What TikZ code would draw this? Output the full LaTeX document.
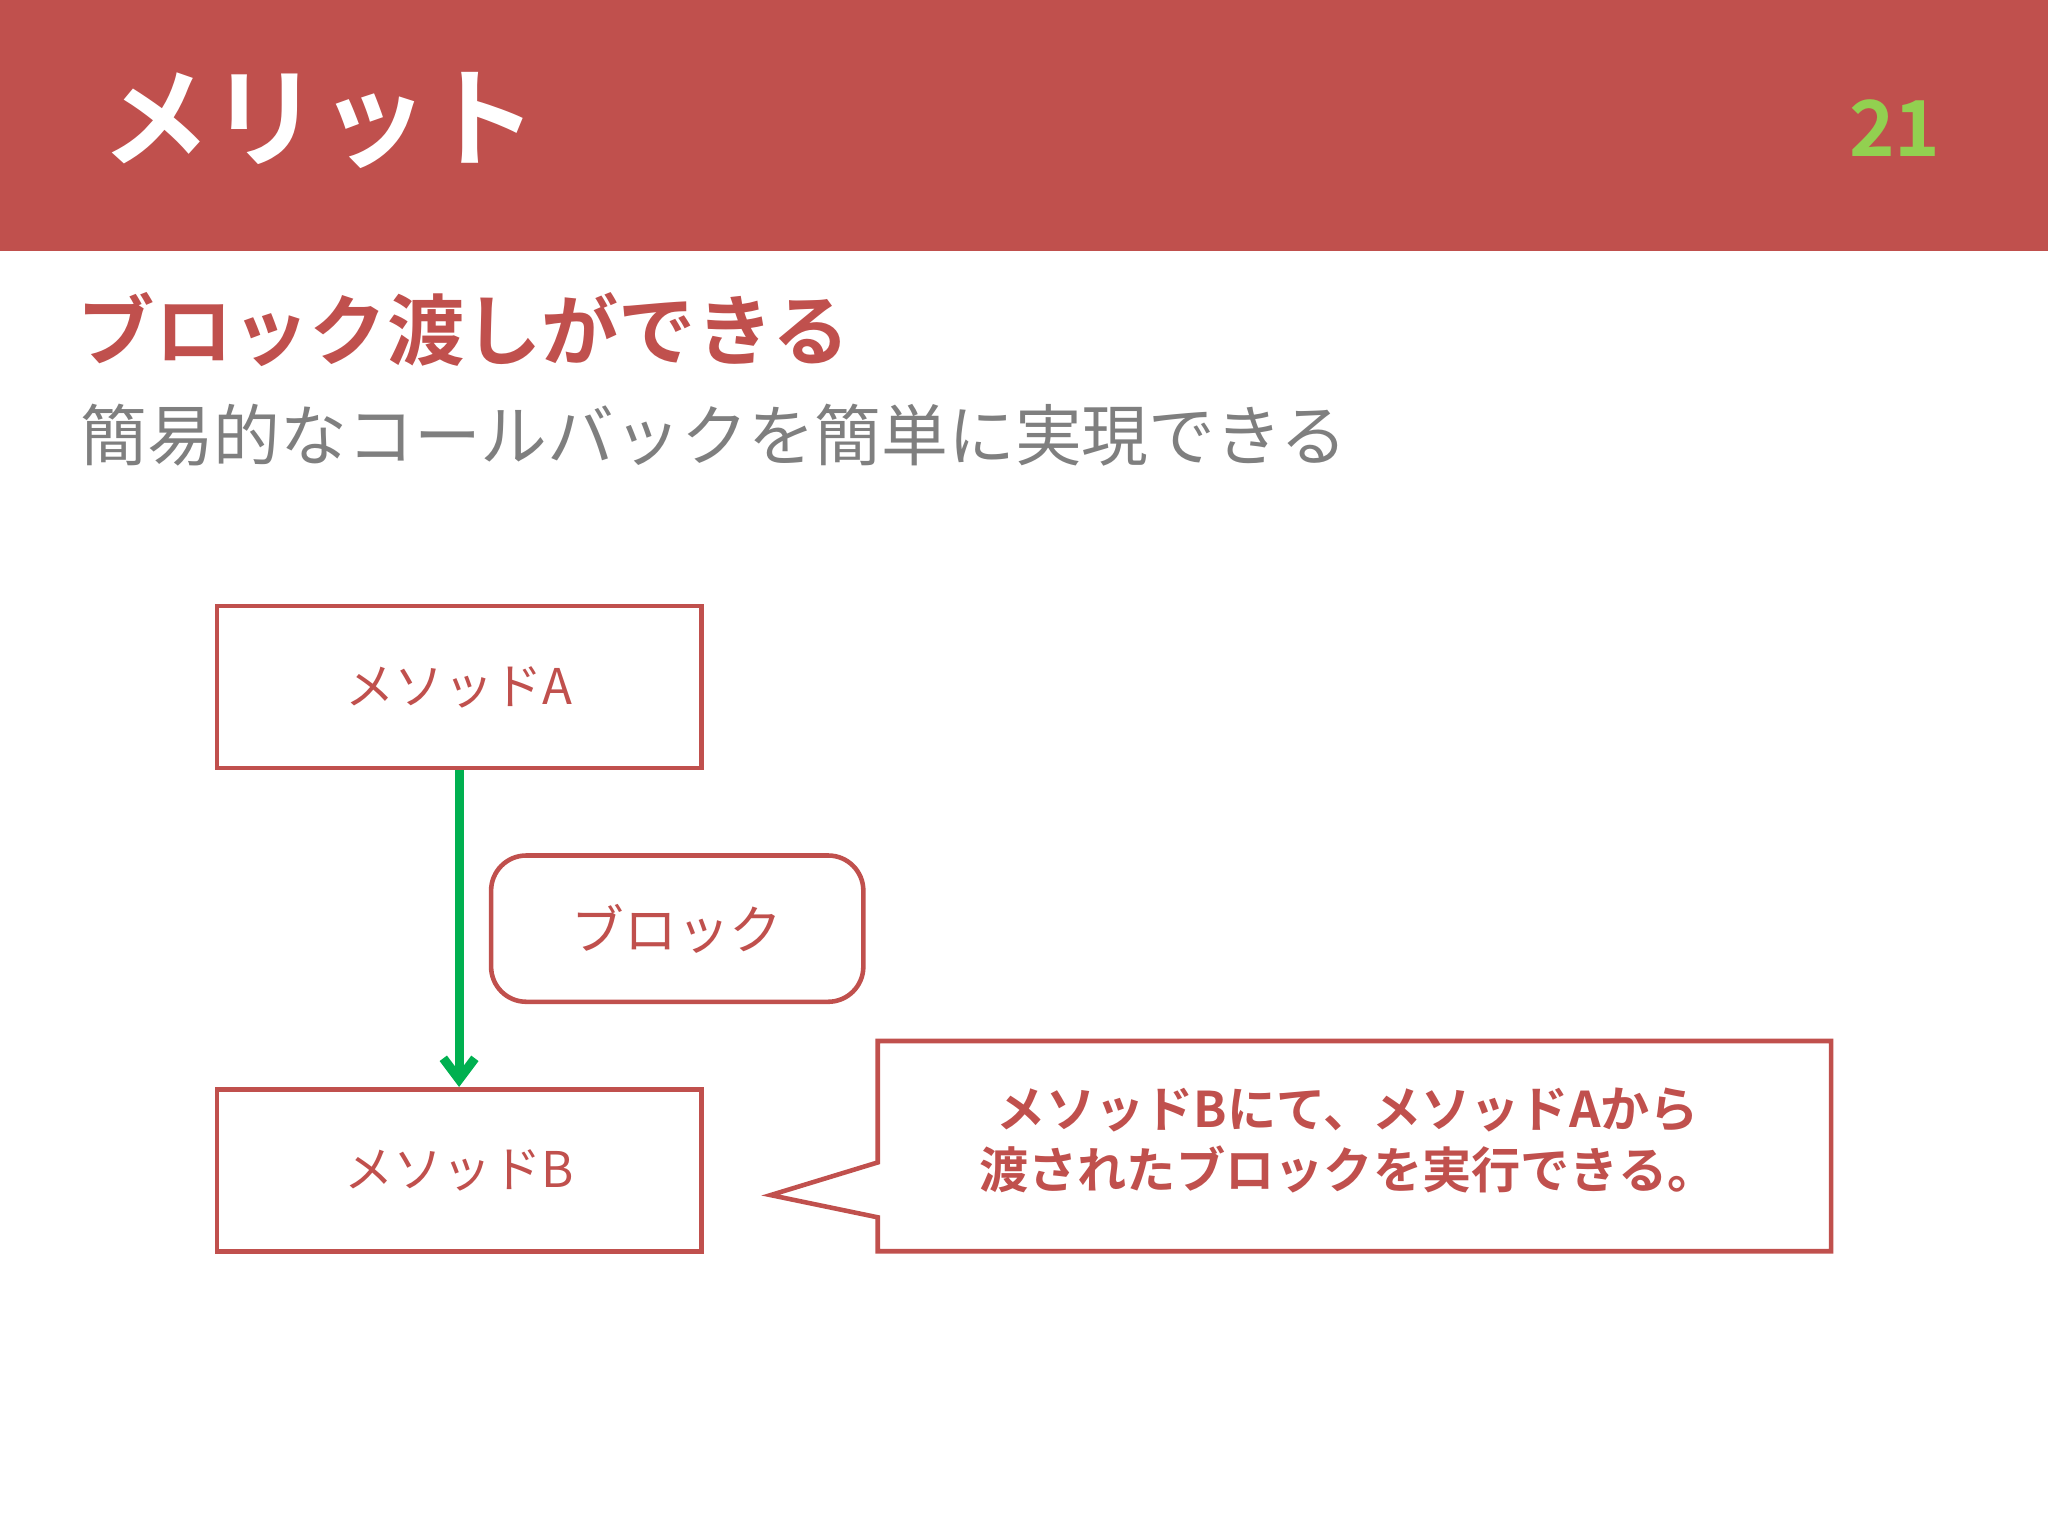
\documentclass[tikz,border=0pt]{standalone}
\usepackage{fontspec}
\usetikzlibrary{arrows.meta}
\setmainfont{Noto Sans CJK JP}
\newfontfamily\jpb{Noto Sans CJK JP Bold}
\definecolor{hdr}{HTML}{C0504D}
\definecolor{grn}{HTML}{92D050}
\definecolor{arr}{HTML}{00B050}
\definecolor{sub}{HTML}{7F7F7F}
\begin{document}
\begin{tikzpicture}[x=0.013061cm,y=-0.013061cm,
 bx/.style={draw=hdr,line width=1.3pt,minimum width=371*0.013061cm,minimum height=124*0.013061cm,text=hdr,font=\fontsize{14}{16}\selectfont},
]
\useasboundingbox (0,0) rectangle (1568,1176);
\fill[hdr] (0,0) rectangle (1568,192);
\node[anchor=west,text=white,font=\jpb\fontsize{31}{34}\selectfont] (t) at (68,92) {メリット};
\node[anchor=east,text=grn,font=\jpb\fontsize{22}{24}\selectfont] (n) at (1495,98) {21};
\node[anchor=west,text=hdr,font=\jpb\fontsize{22}{24}\selectfont] (h) at (50,252) {ブロック渡しができる};
\node[anchor=west,text=sub,font=\fontsize{19}{22}\selectfont] (s) at (52,333) {簡易的なコールバックを簡単に実現できる};
\node[bx] (a) at (351.5,526) {メソッドA};
\node[bx] (b) at (351.5,896) {メソッドB};
\node[draw=hdr,line width=1.3pt,rounded corners=10pt,minimum width=285*0.013061cm,minimum height=112*0.013061cm,text=hdr,font=\fontsize{15}{17}\selectfont] (k) at (518.5,711) {ブロック};
\draw[arr,line width=2.6pt,-{Straight Barb[length=6pt,width=9pt]}] (a.south) -- (b.north);
\draw[hdr,line width=1.3pt] (672,890) -- (672,797) -- (1402,797) -- (1402,958) -- (672,958) -- (672,932) -- (590,915) -- cycle;
\node[text=hdr,align=center,font=\jpb\fontsize{14}{17.5}\selectfont] (c) at (1032,873) {メソッドBにて、メソッドAから\\渡されたブロックを実行できる。};
\end{tikzpicture}
\end{document}
